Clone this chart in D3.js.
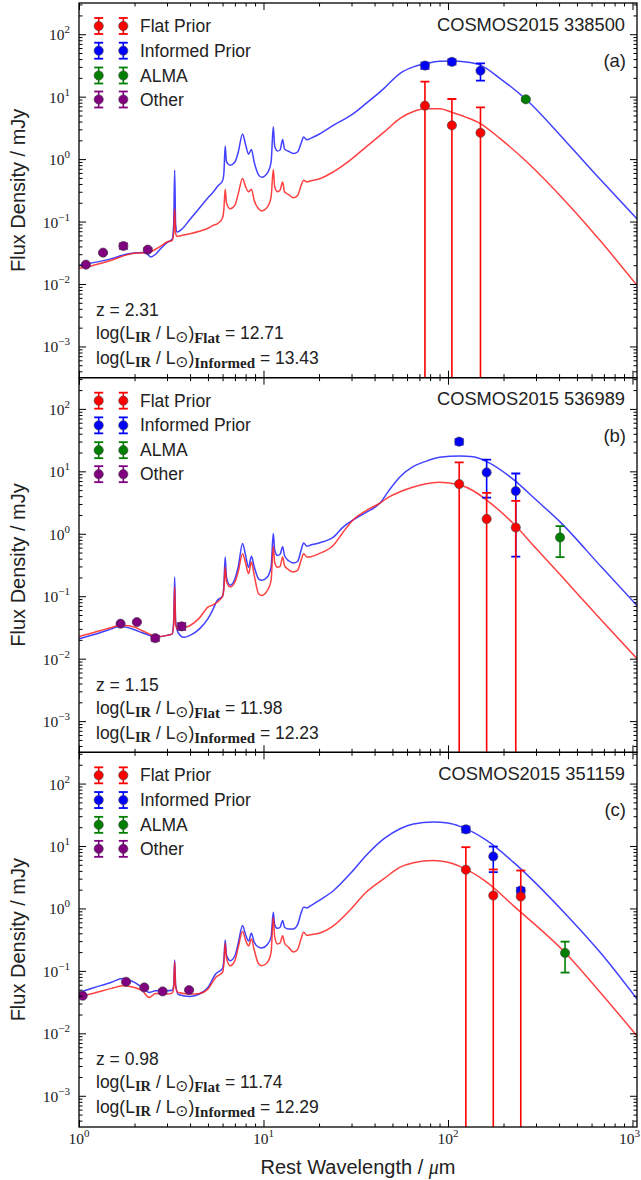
<!DOCTYPE html>
<html><head><meta charset="utf-8">
<script src="https://cdn.jsdelivr.net/npm/d3@7"></script>
<style>body{margin:0;background:#fff}svg{display:block}</style>
</head><body>
<svg id="chart" width="641" height="1180"></svg>
<script>
// ---------------- DATA ----------------
// Panel (a) COSMOS2015 338500 — model SEDs (rest wavelength in micron, flux in mJy)
const sedWaveA = [1.0,1.2,1.5,1.8,2.0,2.2,2.35,2.45,2.6,2.8,3.0,3.2,3.26,3.3,3.34,3.4,3.6,4.0,4.5,5.0,5.3,5.7,6.0,6.1,6.2,6.3,6.6,7.0,7.3,7.7,8.0,8.3,8.6,8.9,9.4,9.8,10.5,11.0,11.3,11.5,11.9,12.3,12.7,13.0,13.7,14.5,15.3,16.0,16.5,17.2,18.0,20,24,30,36,45,55,65,75,90,107,125,149,191,267,440,666,1058];
const sedInformedA = [0.020,0.022,0.0255,0.030,0.0315,0.032,0.030,0.027,0.030,0.038,0.046,0.052,0.09,0.665,0.09,0.068,0.075,0.109,0.165,0.24,0.29,0.38,0.45,0.6,1.62,0.9,0.80,0.90,1.3,2.52,1.7,1.2,1.43,0.9,0.56,0.51,0.60,0.9,3.30,1.6,1.35,1.4,2.07,1.45,1.33,1.23,1.3,1.8,2.25,2.05,2.15,2.5,3.5,5.1,7.8,13.6,23.7,30,33.5,37.0,37.4,36,32.3,19.7,8.85,1.85,0.48,0.11];
const sedFlatA = [0.0178,0.020,0.024,0.029,0.031,0.0315,0.032,0.033,0.036,0.041,0.047,0.050,0.065,0.16,0.065,0.058,0.060,0.064,0.070,0.078,0.086,0.095,0.115,0.16,0.33,0.2,0.16,0.183,0.28,0.49,0.36,0.30,0.33,0.22,0.16,0.148,0.17,0.25,0.68,0.36,0.30,0.32,0.43,0.30,0.27,0.24,0.26,0.38,0.46,0.43,0.45,0.48,0.63,1.0,1.57,2.7,4.5,5.8,6.4,6.4,5.5,4.7,3.74,2.15,0.905,0.2,0.05,0.0095];
// Panel (a) photometry
const flatWaveA = [75,105,150], flatFluxA = [7.17,3.47,2.64], flatErrA = [10.2,5.7,4.1];
const infWaveA = [75,105,150], infFluxA = [31.5,36.1,26.1], infErrA = [3.5,3.5,8.0];
const almaWaveA = [264], almaFluxA = [9.08], almaErrA = [0.5];
const otherWaveA = [1.09,1.35,1.74,2.36], otherFluxA = [0.0204,0.0318,0.0406,0.0355], otherErrA = [0.001,0.001,0.004,0.002];

// Panel (b) COSMOS2015 536989
const sedWaveB = [1.0,1.3,1.5,1.65,1.8,2.0,2.2,2.4,2.6,3.0,3.2,3.26,3.3,3.34,3.45,3.7,4.0,4.5,5.0,5.3,5.6,6.0,6.1,6.2,6.3,6.6,7.0,7.3,7.7,8.0,8.3,8.6,8.9,9.4,9.8,10.5,11.0,11.3,11.5,11.9,12.3,12.7,13.0,13.7,14.5,15.3,16.0,16.5,17.2,18.0,20,24,27,30.5,36,42.8,48,55,65,75,90,116,137,162,226,300,405,681,1058];
const sedInformedB = [0.0209,0.026,0.030,0.0329,0.032,0.029,0.026,0.0236,0.0221,0.0236,0.025,0.04,0.203,0.04,0.026,0.022,0.0236,0.030,0.0437,0.06,0.085,0.1,0.15,0.426,0.2,0.15,0.19,0.3,0.70,0.45,0.29,0.437,0.3,0.19,0.18,0.203,0.3,1.01,0.55,0.45,0.47,0.62,0.45,0.37,0.34,0.36,0.55,0.71,0.63,0.66,0.714,0.89,1.28,1.65,2.2,3.1,5.0,8.2,12,14.3,16.8,17.6,17.1,14.3,7.43,3.5,1.55,0.29,0.071];
const sedFlatB = [0.0227,0.028,0.0316,0.034,0.034,0.032,0.028,0.025,0.0225,0.0236,0.025,0.035,0.141,0.035,0.029,0.031,0.034,0.045,0.067,0.072,0.08,0.1,0.13,0.294,0.17,0.141,0.169,0.25,0.48,0.34,0.23,0.354,0.22,0.11,0.103,0.124,0.18,0.63,0.35,0.29,0.30,0.426,0.31,0.265,0.245,0.26,0.38,0.48,0.426,0.43,0.48,0.66,1.06,1.65,2.35,3.1,3.9,4.7,5.6,6.25,6.66,6.03,4.89,3.46,1.46,0.585,0.222,0.041,0.010];
const flatWaveB = [115,162,233], flatFluxB = [6.25,1.73,1.26], flatErrB = [7.7,2.8,2.1];
const infWaveB = [115,162,233], infFluxB = [29.9,9.6,4.83], infErrB = [3.0,5.8,4.4];
const almaWaveB = [405], almaFluxB = [0.873], almaErrB = [0.45];
const otherWaveB = [1.68,2.06,2.59,3.60], otherFluxB = [0.0363,0.0385,0.0213,0.0329], otherErrB = [0.001,0.001,0.002,0.004];

// Panel (c) COSMOS2015 351159
const sedWaveC = [1.0,1.2,1.5,1.72,2.0,2.2,2.4,2.6,3.0,3.2,3.26,3.3,3.34,3.45,4.0,4.5,5.0,5.5,6.0,6.1,6.2,6.3,6.6,7.0,7.3,7.7,8.0,8.3,8.6,8.9,9.4,9.8,10.5,11.0,11.3,11.5,11.9,12.3,12.7,13.0,13.7,14.5,15.3,16.0,16.5,17.2,18.0,20,24,30,36,45,55,65,83,100,116,162,226,440,666,1058];
const sedInformedC = [0.0452,0.0537,0.066,0.0759,0.0654,0.0543,0.0452,0.0481,0.0481,0.049,0.06,0.15,0.06,0.042,0.039,0.0426,0.0543,0.089,0.11,0.15,0.313,0.18,0.146,0.175,0.28,0.532,0.38,0.30,0.40,0.29,0.24,0.233,0.264,0.35,0.869,0.55,0.48,0.5,0.64,0.5,0.47,0.47,0.55,0.85,1.05,1.02,1.1,1.34,1.94,3.8,7.06,13.1,18.9,22.5,24.2,23.3,20.6,12.3,5.52,0.78,0.2,0.0354];
const sedFlatC = [0.0385,0.044,0.0525,0.0578,0.0543,0.0481,0.0376,0.0435,0.0426,0.044,0.055,0.14,0.055,0.045,0.0426,0.0435,0.0513,0.0786,0.095,0.13,0.277,0.16,0.121,0.146,0.24,0.426,0.31,0.25,0.325,0.22,0.13,0.121,0.137,0.2,0.722,0.35,0.27,0.28,0.367,0.28,0.238,0.20,0.22,0.33,0.415,0.37,0.38,0.40,0.53,1.0,1.82,3.0,4.58,5.4,5.87,5.5,4.71,2.64,1.11,0.185,0.046,0.0091];
const flatWaveC = [125,176,248], flatFluxC = [4.17,1.61,1.55], flatErrC = [5.4,2.6,2.5];
const infWaveC = [125,176,248], infFluxC = [18.5,6.81,1.94], infErrC = [2.0,3.0,0.2];
const almaWaveC = [431], almaFluxC = [0.194], almaErrC = [0.1];
const otherWaveC = [1.047,1.80,2.26,2.84,3.95], otherFluxC = [0.040,0.067,0.0543,0.0469,0.0493], otherErrC = [0.001,0.002,0.001,0.003,0.001];

// Labels
const sourceNames = ["COSMOS2015 338500","COSMOS2015 536989","COSMOS2015 351159"];
const panelTags = ["(a)","(b)","(c)"];
const redshifts = ["2.31","1.15","0.98"];
const lirFlat = ["12.71","11.98","11.74"];
const lirInformed = ["13.43","12.23","12.29"];
const legendLabels = ["Flat Prior","Informed Prior","ALMA","Other"];
const yTickExps = [-3,-2,-1,0,1,2];
const xTickExps = [0,1,2,3];

// ---------------- LAYOUT ----------------
const colors = {flat:"#ff0000", inf:"#0000ff", alma:"#007f00", other:"#800080"};
const L = 79, R = 637, T0 = 3, PH = 374.67;
const svg = d3.select("#chart");
const x = d3.scaleLog().domain([1, 1058]).range([L, R]);
const SANS = "'Liberation Sans', Arial, sans-serif";
const SERIF = "'Liberation Serif', 'DejaVu Serif', serif";

const panels = [
  {sed:[sedWaveA, sedFlatA, sedInformedA],
   pts:{inf:[infWaveA,infFluxA,infErrA], flat:[flatWaveA,flatFluxA,flatErrA], alma:[almaWaveA,almaFluxA,almaErrA], other:[otherWaveA,otherFluxA,otherErrA]}},
  {sed:[sedWaveB, sedFlatB, sedInformedB],
   pts:{inf:[infWaveB,infFluxB,infErrB], flat:[flatWaveB,flatFluxB,flatErrB], alma:[almaWaveB,almaFluxB,almaErrB], other:[otherWaveB,otherFluxB,otherErrB]}},
  {sed:[sedWaveC, sedFlatC, sedInformedC],
   pts:{inf:[infWaveC,infFluxC,infErrC], flat:[flatWaveC,flatFluxC,flatErrC], alma:[almaWaveC,almaFluxC,almaErrC], other:[otherWaveC,otherFluxC,otherErrC]}}
];

function minorTicks(lo, hi) {
  const out = [];
  for (let e = Math.floor(Math.log10(lo)); e <= Math.ceil(Math.log10(hi)); e++)
    for (let m = 2; m <= 9; m++) { const v = m * Math.pow(10, e); if (v > lo && v < hi) out.push(v); }
  return out;
}
const xMajor = xTickExps.map(e => Math.pow(10, e));
const xMinor = minorTicks(1, 1058);

panels.forEach((p, i) => {
  const top = T0 + i * PH, bot = top + PH;
  const y = d3.scaleLog().domain([Math.pow(10, -3.5), Math.pow(10, 2.5)]).range([bot, top]);
  const yMajor = yTickExps.map(e => Math.pow(10, e));
  const yMinor = minorTicks(Math.pow(10, -3.5), Math.pow(10, 2.5));
  const g = svg.append("g");

  const clipId = "clip" + i;
  svg.append("clipPath").attr("id", clipId).append("rect")
    .attr("x", L).attr("y", top).attr("width", R - L).attr("height", PH);
  const plot = g.append("g").attr("clip-path", `url(#${clipId})`);

  // model curves
  const [wv, fl, inf] = p.sed;
  const line = d3.line().x(d => x(d[0])).y(d => y(d[1])).curve(d3.curveMonotoneX);
  plot.append("path").attr("d", line(wv.map((w, k) => [w, inf[k]])))
    .attr("fill", "none").attr("stroke", "#2020ff").attr("stroke-opacity", 0.85).attr("stroke-width", 1.5);
  plot.append("path").attr("d", line(wv.map((w, k) => [w, fl[k]])))
    .attr("fill", "none").attr("stroke", "#ff2020").attr("stroke-opacity", 0.85).attr("stroke-width", 1.5);

  // photometry with error bars
  function series(key) {
    const [w, f, e] = p.pts[key];
    const c = colors[key];
    const sg = plot.append("g");
    w.forEach((wl, k) => {
      const xp = x(wl), yHi = y(f[k] + e[k]);
      const lo = f[k] - e[k];
      const yLo = lo > 0 ? y(lo) : bot + 10;
      sg.append("line").attr("x1", xp).attr("x2", xp).attr("y1", yHi).attr("y2", yLo)
        .attr("stroke", c).attr("stroke-width", 1.6);
      sg.append("line").attr("x1", xp - 4.5).attr("x2", xp + 4.5).attr("y1", yHi).attr("y2", yHi)
        .attr("stroke", c).attr("stroke-width", 1.8);
      if (lo > 0) sg.append("line").attr("x1", xp - 4.5).attr("x2", xp + 4.5).attr("y1", yLo).attr("y2", yLo)
        .attr("stroke", c).attr("stroke-width", 1.8);
    });
    sg.selectAll("circle").data(w).join("circle")
      .attr("cx", d => x(d)).attr("cy", (d, k) => y(f[k])).attr("r", 4.6)
      .attr("fill", c).attr("stroke", "#444").attr("stroke-width", 0.8).attr("stroke-opacity", 0.8);
  }
  series("inf"); series("flat"); series("alma"); series("other");

  // axes (ticks inward on all sides)
  const ax = g.append("g");
  const styleAxis = sel => { sel.select(".domain").remove(); sel.selectAll("line").attr("stroke", "#000").attr("stroke-width", 1); };
  ax.append("g").attr("transform", `translate(${L},0)`).call(d3.axisLeft(y).tickValues(yMajor).tickSize(-7).tickFormat("")).call(styleAxis);
  ax.append("g").attr("transform", `translate(${L},0)`).call(d3.axisLeft(y).tickValues(yMinor).tickSize(-3.5).tickFormat("")).call(styleAxis);
  ax.append("g").attr("transform", `translate(${R},0)`).call(d3.axisRight(y).tickValues(yMajor).tickSize(-7).tickFormat("")).call(styleAxis);
  ax.append("g").attr("transform", `translate(${R},0)`).call(d3.axisRight(y).tickValues(yMinor).tickSize(-3.5).tickFormat("")).call(styleAxis);
  ax.append("g").attr("transform", `translate(0,${bot})`).call(d3.axisBottom(x).tickValues(xMajor).tickSize(-7).tickFormat("")).call(styleAxis);
  ax.append("g").attr("transform", `translate(0,${bot})`).call(d3.axisBottom(x).tickValues(xMinor).tickSize(-3.5).tickFormat("")).call(styleAxis);
  ax.append("g").attr("transform", `translate(0,${top})`).call(d3.axisTop(x).tickValues(xMajor).tickSize(-7).tickFormat("")).call(styleAxis);
  ax.append("g").attr("transform", `translate(0,${top})`).call(d3.axisTop(x).tickValues(xMinor).tickSize(-3.5).tickFormat("")).call(styleAxis);
  g.append("rect").attr("x", L).attr("y", top).attr("width", R - L).attr("height", PH)
    .attr("fill", "none").attr("stroke", "#000").attr("stroke-width", 1.3);

  // y tick labels
  yTickExps.forEach(e => {
    const t = g.append("text").attr("x", 70).attr("y", y(Math.pow(10, e)) + 6)
      .attr("text-anchor", "end").attr("font-family", SERIF).attr("font-size", 15.5).attr("fill", "#222");
    t.append("tspan").text("10");
    t.append("tspan").attr("dy", -7).attr("font-size", 11).text(e < 0 ? "\u2212" + (-e) : String(e));
  });

  // y label
  g.append("text").attr("transform", `translate(25,${top + PH / 2}) rotate(-90)`)
    .attr("text-anchor", "middle").attr("font-family", SANS).attr("font-size", 20).attr("fill", "#222")
    .text("Flux Density / mJy");

  // legend
  const rows = [23, 47.7, 72.5, 96.5];
  const keys = ["flat", "inf", "alma", "other"];
  keys.forEach((k, j) => {
    const cy = top + rows[j];
    [98.7, 123.3].forEach(cx => {
      g.append("line").attr("x1", cx).attr("x2", cx).attr("y1", cy - 8).attr("y2", cy + 8).attr("stroke", colors[k]).attr("stroke-width", 1.6);
      [cy - 8, cy + 8].forEach(yy => g.append("line").attr("x1", cx - 4.5).attr("x2", cx + 4.5).attr("y1", yy).attr("y2", yy).attr("stroke", colors[k]).attr("stroke-width", 1.8));
      g.append("circle").attr("cx", cx).attr("cy", cy).attr("r", 4.6).attr("fill", colors[k])
        .attr("stroke", "#444").attr("stroke-width", 0.8).attr("stroke-opacity", 0.8);
    });
    g.append("text").attr("x", 140).attr("y", cy + 6).attr("font-family", SANS).attr("font-size", 17.5)
      .attr("fill", "#222").text(legendLabels[j]);
  });

  // source name and tag
  g.append("text").attr("x", 625).attr("y", top + 27.5).attr("text-anchor", "end")
    .attr("font-family", SANS).attr("font-size", 18.3).attr("fill", "#222").text(sourceNames[i]);
  g.append("text").attr("x", 626).attr("y", top + 64).attr("text-anchor", "end")
    .attr("font-family", SANS).attr("font-size", 18.5).attr("fill", "#222").text(panelTags[i]);

  // annotations
  const ann = (yy) => g.append("text").attr("x", 96).attr("y", top + yy).attr("font-family", SANS)
    .attr("font-size", 17.5).attr("fill", "#222");
  ann(313).text("z = " + redshifts[i]);
  [[336, "Flat", lirFlat[i]], [361, "Informed", lirInformed[i]]].forEach(([yy, sub, val]) => {
    const t = ann(yy);
    t.append("tspan").text("log(L");
    t.append("tspan").attr("font-family", SERIF).attr("font-weight", "bold").attr("font-size", 14.5).attr("dy", 3).text("IR");
    t.append("tspan").attr("dy", -3).text(" / L");
    t.append("tspan").attr("font-family", "'DejaVu Sans'").attr("font-size", 15.5).attr("dy", 3).text("\u2299");
    t.append("tspan").attr("dy", -3).text(")");
    t.append("tspan").attr("font-family", SERIF).attr("font-weight", "bold").attr("font-size", 15).attr("dy", 4).text(sub);
    t.append("tspan").attr("dy", -4).text(" = " + val);
  });

  // x tick labels on bottom panel
  if (i === panels.length - 1) {
    xTickExps.forEach(e => {
      const xp = x(Math.pow(10, e));
      const last = xp + 14 > 641;
      const t = g.append("text").attr("x", last ? 640 : xp).attr("y", bot + 17)
        .attr("text-anchor", last ? "end" : "middle").attr("font-family", SERIF).attr("font-size", 15.5).attr("fill", "#222");
      t.append("tspan").text("10");
      t.append("tspan").attr("dy", -7).attr("font-size", 11).text(String(e));
    });
    const xl = g.append("text").attr("x", (L + R) / 2).attr("y", 1174).attr("text-anchor", "middle")
      .attr("font-family", SANS).attr("font-size", 20).attr("fill", "#222");
    xl.append("tspan").text("Rest Wavelength / ");
    xl.append("tspan").attr("font-family", SERIF).attr("font-style", "italic").text("\u03bc");
    xl.append("tspan").text("m");
  }
});
</script>
</body></html>
